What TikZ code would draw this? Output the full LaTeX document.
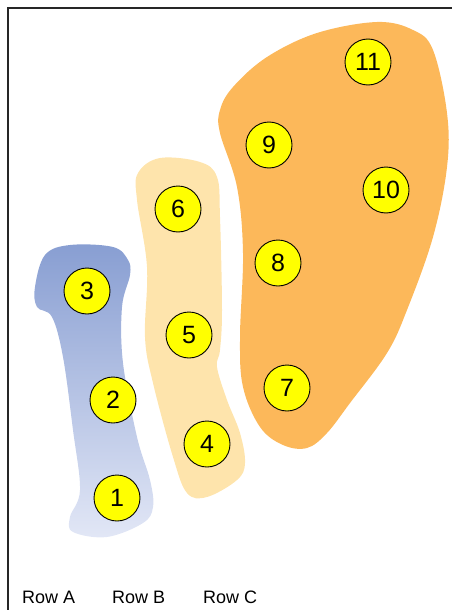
\documentclass[tikz,border=0pt]{standalone}
\usepackage{fontspec}
\setmainfont{Liberation Sans}

\definecolor{blauoben}{RGB}{136,158,210}
\definecolor{blauunten}{RGB}{226,231,246}
\definecolor{hellorange}{RGB}{254,228,172}
\definecolor{orange}{RGB}{252,184,90}
\definecolor{gelb}{RGB}{255,255,0}

\tikzset{
	kreis/.style={circle, draw=black, fill=gelb, line width=0.9pt, minimum size=46pt, inner sep=0pt, font=\fontsize{25}{25}\selectfont},
	reihe/.style={anchor=base west, inner sep=0pt, font=\fontsize{18}{18}\selectfont}
}

\begin{document}
\begin{tikzpicture}[x=1pt, y=-1pt]
	
	\useasboundingbox (0,0) rectangle (452,610);
	
	%Bereiche
	\shade[top color=blauoben, bottom color=blauunten] plot[smooth cycle, tension=0.6] coordinates {(45,255) (70,245) (113,247) (128,260) (130,275) (122,307) (123,363) (137,437) (150,480) (153,507) (143,523) (107,537) (73,532) (70,517) (80,490) (73,430) (63,357) (52,317) (37,307) (35,287)};
	\fill[hellorange] plot[smooth cycle, tension=0.6] coordinates {(160,158) (200,162) (217,177) (220,217) (222,310) (220,350) (217,367) (227,400) (240,433) (245,463) (237,480) (207,497) (187,493) (173,457) (153,383) (145,337) (147,267) (137,200) (138,173)};
	\fill[orange] plot[smooth cycle, tension=0.6] coordinates {(317,33) (377,22) (413,30) (433,50) (447,113) (447,167) (433,237) (407,310) (387,353) (350,403) (327,433) (307,448) (283,445) (260,427) (243,387) (240,337) (243,253) (237,187) (220,133) (220,110) (233,87) (267,57)};
	
	%Kreise
	\node[kreis] (k1) at (117,498) {1};
	\node[kreis] (k2) at (113,400) {2};
	\node[kreis] (k3) at (87,291) {3};
	\node[kreis] (k4) at (207,444) {4};
	\node[kreis] (k5) at (189,335) {5};
	\node[kreis] (k6) at (178,209) {6};
	\node[kreis] (k7) at (287,388) {7};
	\node[kreis] (k8) at (278,263) {8};
	\node[kreis] (k9) at (269,145) {9};
	\node[kreis] (k10) at (386,190) {10};
	\node[kreis] (k11) at (368,62) {11};
	
	%Rahmen
	\draw[line width=2.2pt, black!85] (8,610) -- (8,8) -- (452,8);
	
	%Beschriftungen
	\node[reihe] (rowA) at (22,603) {Row A};
	\node[reihe] (rowB) at (112,603) {Row B};
	\node[reihe] (rowC) at (203,603) {Row C};
	
\end{tikzpicture}
\end{document}
